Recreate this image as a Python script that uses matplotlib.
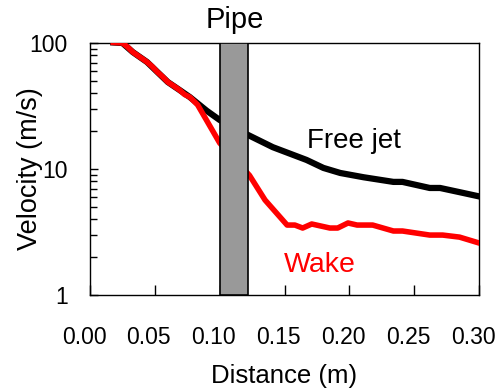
import numpy as np
import matplotlib.pyplot as plt
import matplotlib.transforms as mtransforms
from matplotlib.patches import Rectangle
from matplotlib.ticker import LogLocator, FixedLocator, NullFormatter

plt.rcParams['font.family'] = ['Liberation Sans', 'DejaVu Sans']

# distance (m) and velocity (m/s)
dist_jet = [0.018, 0.025, 0.033, 0.044, 0.052, 0.060, 0.069, 0.077, 0.090,
            0.100, 0.122, 0.141, 0.167, 0.180, 0.193, 0.211, 0.234, 0.241,
            0.262, 0.270, 0.288, 0.302]
vel_jet = [101, 100, 84.7, 70.6, 58.8, 49, 42.4, 37.2, 29,
           24.5, 18.6, 14.9, 11.8, 10.2, 9.3, 8.6, 7.9, 7.9,
           7.07, 7.07, 6.45, 6.0]

dist_wake = [0.018, 0.025, 0.029, 0.033, 0.038, 0.044, 0.048, 0.052, 0.056,
             0.060, 0.064, 0.069, 0.073, 0.077, 0.083, 0.100, 0.123, 0.135,
             0.152, 0.158, 0.164, 0.171, 0.185, 0.191, 0.199, 0.206, 0.218,
             0.234, 0.241, 0.262, 0.272, 0.285, 0.302]
vel_wake = [101, 100, 93, 84.7, 78, 70.6, 65, 58.8, 54,
            49, 46, 42.4, 39, 37.2, 32.3, 16.1, 8.9, 5.67,
            3.59, 3.59, 3.40, 3.66, 3.40, 3.40, 3.73, 3.59, 3.59,
            3.22, 3.22, 2.99, 2.99, 2.88, 2.55]

pipe_x = (0.1005, 0.1222)

fig = plt.figure(figsize=(5.01, 3.90), dpi=100)
ax = fig.add_axes([90 / 501, 95 / 390, 389 / 501, 252 / 390])

ax.plot(dist_jet, vel_jet, color='black', lw=4.5, solid_joinstyle='round', zorder=2)
ax.plot(dist_wake, vel_wake, color='#ff0000', lw=4.0, solid_joinstyle='round', zorder=3)

# pipe cross-section
ax.add_patch(Rectangle((pipe_x[0], 1), pipe_x[1] - pipe_x[0], 99,
                       facecolor='#999999', edgecolor='black', lw=1.2, zorder=4))

ax.set_yscale('log')
ax.set_xlim(0, 0.30)
ax.set_ylim(1, 100)
ax.set_xticks(np.arange(0, 0.301, 0.05))
ax.set_xticklabels(['%.2f' % v for v in np.arange(0, 0.301, 0.05)])
ax.yaxis.set_major_locator(FixedLocator([1, 10, 100]))
ax.yaxis.set_minor_locator(LogLocator(base=10, subs=np.arange(2, 10)))
ax.yaxis.set_minor_formatter(NullFormatter())
ax.set_yticklabels(['1', '10', '100'])

ax.tick_params(axis='both', which='both', direction='in', labelsize=16.5,
               right=False, top=False)
ax.tick_params(axis='x', which='major', length=7, width=1, pad=22)
ax.tick_params(axis='y', which='major', length=6, width=1, pad=16)
ax.tick_params(axis='y', which='minor', length=5, width=1)
for s in ax.spines.values():
    s.set_linewidth(1)

# x tick labels sit a little left of their ticks
shift = mtransforms.ScaledTranslation(-6 / 100, 0, fig.dpi_scale_trans)
for lbl in ax.get_xticklabels():
    lbl.set_transform(lbl.get_transform() + shift)

ax.set_xlabel('Distance (m)', fontsize=18.5)
ax.set_ylabel('Velocity (m/s)', fontsize=19.5)
ax.xaxis.set_label_coords(0.5, -0.272)
ax.yaxis.set_label_coords(-0.122, 0.5)

ax.text(0.1113, 1.036, 'Pipe', transform=ax.get_xaxis_transform(),
        ha='center', va='bottom', fontsize=21)
ax.text(0.2036, 16.7, 'Free jet', ha='center', va='center', fontsize=20)
ax.text(0.177, 1.73, 'Wake', ha='center', va='center', fontsize=20.5, color='#ff0000')

fig.savefig('out.png', dpi=100)
